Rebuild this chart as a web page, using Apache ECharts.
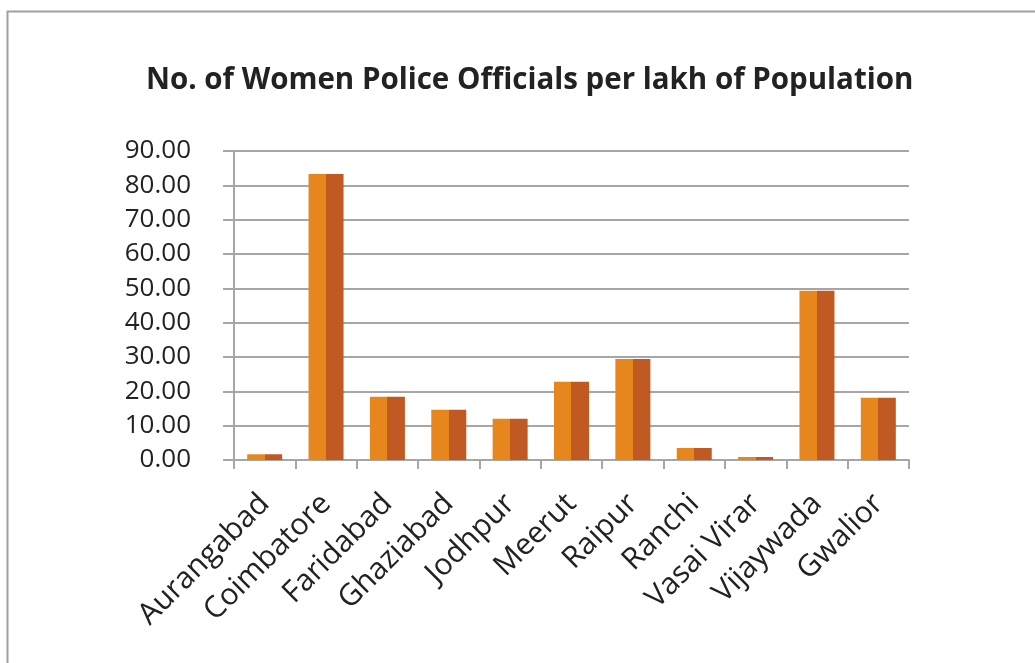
<!DOCTYPE html>
<html>
<head>
<meta charset="utf-8">
<script src="https://cdn.jsdelivr.net/npm/echarts@6/dist/echarts.min.js"></script>
<style>
html,body{margin:0;padding:0;background:#fff;}
#chart{width:1035px;height:663px;}
</style>
</head>
<body>
<div id="chart"></div>
<script>
const titleText = 'No. of Women Police Officials per lakh of Population';
const categories = ['Aurangabad','Coimbatore','Faridabad','Ghaziabad','Jodhpur','Meerut','Raipur','Ranchi','Vasai Virar','Vijaywada','Gwalior'];
const values = [1.7, 83.3, 18.4, 14.6, 12.0, 22.8, 29.4, 3.5, 0.9, 49.3, 18.1];
const yTicks = [0, 10, 20, 30, 40, 50, 60, 70, 80, 90];

const chart = echarts.init(document.getElementById('chart'), null, {renderer:'canvas'});
const gray = '#A6A6A6';
const fontFam = '"Open Sans", "Noto Sans", sans-serif';
chart.setOption({
  animation:false,
  backgroundColor:'#fff',
  graphic:[{
    type:'rect', left:5, top:9, silent:true,
    shape:{x:0,y:0,width:1100,height:700},
    style:{fill:'none', stroke:'#A0A0A0', lineWidth:2}
  }],
  title:{
    text:titleText, left:141, top:61,
    textStyle:{fontFamily:fontFam, fontWeight:'bold', fontSize:29.5, color:'#222'}
  },
  grid:{left:234, right:126, top:151, bottom:203},
  xAxis:{
    type:'category', data:categories,
    axisLine:{lineStyle:{color:gray, width:2}},
    axisTick:{show:true, length:9, lineStyle:{color:gray, width:2}},
    axisLabel:{rotate:45, margin:39, fontFamily:fontFam, fontSize:30, color:'#222', interval:0}
  },
  yAxis:{
    type:'value', min:yTicks[0], max:yTicks[yTicks.length-1], interval:10,
    axisLine:{show:true, lineStyle:{color:gray, width:2}},
    axisTick:{show:true, length:11, lineStyle:{color:gray, width:2}},
    splitLine:{lineStyle:{color:gray, width:2}},
    axisLabel:{margin:43, fontFamily:fontFam, fontSize:26, color:'#222', formatter:v=>v.toFixed(2)}
  },
  series:[{
    type:'bar', data:values, barWidth:35,
    itemStyle:{color:new echarts.graphic.LinearGradient(0,0,1,0,[
      {offset:0,color:'#E8861E'},{offset:0.5,color:'#E8861E'},
      {offset:0.5,color:'#C05A22'},{offset:1,color:'#C05A22'}])}
  }]
});
</script>
</body>
</html>
